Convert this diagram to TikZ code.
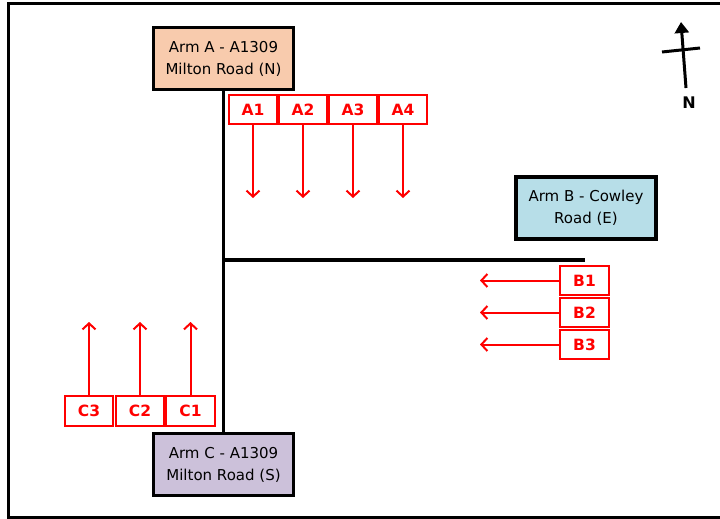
\documentclass[tikz,border=0pt]{standalone}
\usepackage{fontspec}
\setmainfont{DejaVu Sans}
\usetikzlibrary{positioning,arrows.meta}
\definecolor{armApeach}{HTML}{F8CBAD}
\definecolor{armBblue}{HTML}{B7DEE8}
\definecolor{armClilac}{HTML}{CCC1DA}

\begin{document}
\begin{tikzpicture}[x=1pt,y=-1pt,
                    arm/.style={draw=black,line width=3.2pt,minimum width=140pt,minimum height=62pt,align=center,inner sep=2pt,font=\fontsize{15}{22}\selectfont},
                    lane/.style={draw=red,line width=2.2pt,minimum width=48.5pt,minimum height=29.5pt,inner sep=0pt,text=red,font=\fontsize{15.5}{16}\selectfont\bfseries},
                    flow/.style={red,line width=2pt,-{Straight Barb[length=6pt,width=13pt]}},
                    road/.style={black,line width=3.5pt}
                ]
                    \useasboundingbox (0,0) rectangle (720,519);
                    \draw[line width=3pt] (724,4) -- (8,4) -- (8,517) -- (724,517);
                    % arms
                    \node[arm,fill=armApeach] (armA) at (223.5,58.5) {Arm A - A1309\\Milton Road (N)};
                    \node[arm,fill=armBblue] (armB) at (586,208) {Arm B - Cowley\\Road (E)};
                    \node[arm,fill=armClilac] (armC) at (223.5,464.5) {Arm C - A1309\\Milton Road (S)};
                    % roads
                    \coordinate (junction) at (223.5,260);
                    \coordinate (roadB) at (585,260);
                    \draw[road] (armA.south) -- (armC.north);
                    \draw[road] (junction) -- (roadB);
                    % lanes
                    \foreach \i/\x in {1/253,2/303,3/353,4/403}
                        {
                        \node[lane] (a\i) at (\x,109.5) {A\i};
                        \coordinate (a\i end) at (\x,198);
                        \draw[flow] (a\i.south) -- (a\i end);
                    }
                    \foreach \i/\y in {1/280.5,2/312.5,3/344.5}
                        {
                        \node[lane] (b\i) at (584.5,\y) {B\i};
                        \coordinate (b\i end) at (480,\y);
                        \draw[flow] (b\i.west) -- (b\i end);
                    }
                    \foreach \i/\x in {1/190.5,2/140,3/89}
                        {
                        \node[lane] (c\i) at (\x,411) {C\i};
                        \coordinate (c\i end) at (\x,322);
                        \draw[flow] (c\i.north) -- (c\i end);
                    }
                    % north arrow
                    \coordinate (nbase) at (686,88);
                    \coordinate (ntip) at (681,22);
                    \coordinate (crossW) at (662,52);
                    \coordinate (crossE) at (700,48);
                    \draw[line width=3pt,-{Triangle[length=11pt,width=14pt]}] (nbase) -- (ntip);
                    \draw[line width=3pt] (crossW) -- (crossE);
                    \node[font=\fontsize{16}{16}\selectfont\bfseries] (north) at (689,103) {N};
                \end{tikzpicture}
\end{document}
